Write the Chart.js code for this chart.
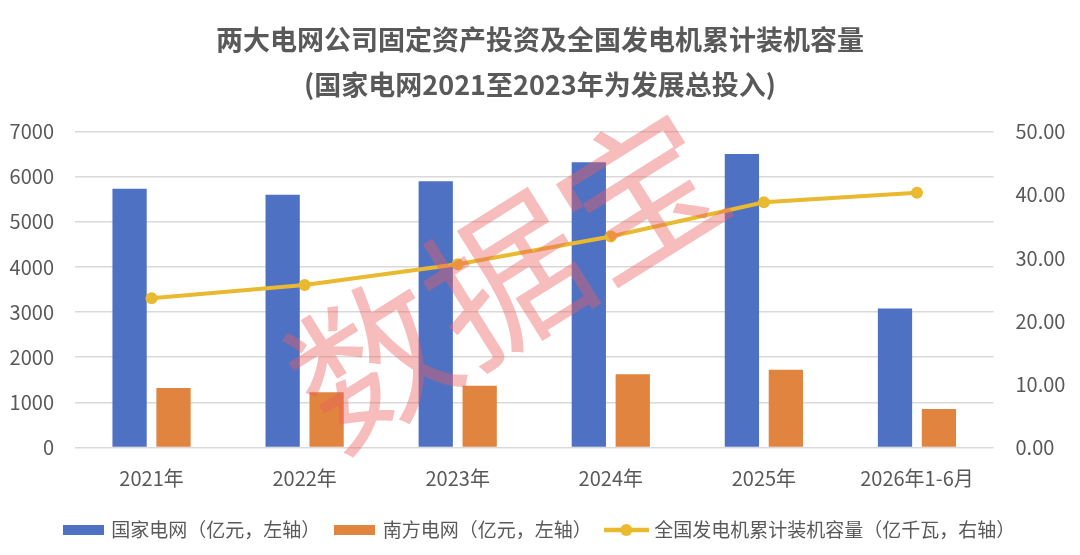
<!DOCTYPE html>
<html>
<head>
<meta charset="utf-8">
<script src="https://cdn.jsdelivr.net/npm/chart.js@4/dist/chart.umd.min.js"></script>
<style>
  html, body { margin: 0; padding: 0; background: #fff; }
  #wrap { width: 1080px; height: 555px; }
</style>
</head>
<body>
<div id="wrap"><canvas id="myChart"></canvas></div>
<script>
'use strict';

// data
var categories = ['2021年', '2022年', '2023年', '2024年', '2025年', '2026年1-6月']
var stateGrid = [5730, 5600, 5900, 6320, 6500, 3080]
var southernGrid = [1320, 1225, 1370, 1620, 1720, 855]
var capacity = [23.6, 25.7, 29.0, 33.4, 38.8, 40.3]
var seriesNames = ['国家电网（亿元，左轴）', '南方电网（亿元，左轴）', '全国发电机累计装机容量（亿千瓦，右轴）']
var titleLines = ['两大电网公司固定资产投资及全国发电机累计装机容量', '(国家电网2021至2023年为发展总投入)']
var watermark = '数据宝'

var BLUE = '#4f71c4', ORANGE = '#e0843f', GOLD = '#e9b92f', TEXT = '#595959'
var FONT = '"Noto Sans CJK SC", "Noto Sans", sans-serif'

function swatch(kind, color) {
	var c = document.createElement('canvas')
	c.width = kind == 'bar' ? 41 : 45
	c.height = 14
	var g = c.getContext('2d')
	g.fillStyle = color
	g.strokeStyle = color
	if (kind == 'bar') {
		g.fillRect(0, 2, 41, 10)
	} else {
		g.lineWidth = 4.5
		g.beginPath(); g.moveTo(0, 7); g.lineTo(45, 7); g.stroke()
		g.beginPath(); g.arc(22.5, 7, 6, 0, Math.PI * 2); g.fill()
	}
	return c
}

var watermarkPlugin = {
	id: 'watermark',
	afterDatasetsDraw: function(chart) {
		var ctx = chart.ctx
		ctx.save()
		ctx.translate(506, 278)
		ctx.rotate(-32 * Math.PI / 180)
		ctx.font = '158px ' + FONT
		ctx.fillStyle = 'rgba(236, 96, 96, 0.42)'
		ctx.textAlign = 'center'
		ctx.textBaseline = 'middle'
		ctx.fillText(watermark, 0, 0)
		ctx.restore()
	}
}

var legendIcons = [swatch('bar', BLUE), swatch('bar', ORANGE), swatch('line', GOLD)]

var chart = new Chart(document.getElementById('myChart').getContext('2d'), {
	type: 'bar',
	data: {
		labels: categories,
		datasets: [
			{label: seriesNames[0], data: stateGrid, backgroundColor: BLUE, yAxisID: 'y', order: 2,
				categoryPercentage: 0.574, barPercentage: 0.78},
			{label: seriesNames[1], data: southernGrid, backgroundColor: ORANGE, yAxisID: 'y', order: 2,
				categoryPercentage: 0.574, barPercentage: 0.78},
			{type: 'line', label: seriesNames[2], data: capacity, yAxisID: 'y1', order: 0,
				borderColor: GOLD, backgroundColor: GOLD, borderWidth: 4,
				pointRadius: 6, pointBackgroundColor: GOLD, pointBorderWidth: 0, tension: 0}
		]
	},
	options: {
		responsive: true,
		maintainAspectRatio: false,
		animation: false,
		layout: {padding: {left: 0, right: 0, top: 0, bottom: 5.5}},
		plugins: {
			tooltip: {enabled: false},
			title: {
				display: true,
				text: titleLines,
				color: TEXT,
				font: {family: FONT, size: 27, weight: 'bold', lineHeight: 1.667},
				padding: {top: 17.5, bottom: 24}
			},
			legend: {
				position: 'bottom',
				labels: {
					usePointStyle: true,
					pointStyleWidth: 37,
					boxHeight: 14,
					color: TEXT,
					padding: 16,
					font: {family: FONT, size: 19},
					generateLabels: function(ch) {
						return ch.data.datasets.map(function(ds, i) {
							return {text: ds.label, pointStyle: legendIcons[i], fillStyle: 'transparent',
								strokeStyle: 'transparent', lineWidth: 0, fontColor: TEXT, datasetIndex: i, hidden: false}
						})
					}
				}
			}
		},
		scales: {
			x: {
				grid: {display: false, drawTicks: false},
				border: {display: false},
				ticks: {color: TEXT, font: {family: FONT, size: 20}, padding: 19},
				afterFit: function(s) { s.height = 57 }
			},
			y: {
				position: 'left',
				min: 0, max: 7000,
				ticks: {stepSize: 1000, color: TEXT, font: {family: FONT, size: 20}, padding: 21,
					callback: function(v) { return String(v) }},
				grid: {color: '#d9d9d9', lineWidth: 1.5, drawTicks: false},
				border: {display: false},
				afterFit: function(s) { s.width = 75 }
			},
			y1: {
				position: 'right',
				min: 0, max: 50,
				ticks: {stepSize: 10, color: TEXT, font: {family: FONT, size: 20}, padding: 22,
					callback: function(v) { return Number(v).toFixed(2) }},
				grid: {display: false, drawTicks: false},
				border: {display: false},
				afterFit: function(s) { s.width = 86.5 }
			}
		}
	},
	plugins: [watermarkPlugin]
})
</script>
</body>
</html>
